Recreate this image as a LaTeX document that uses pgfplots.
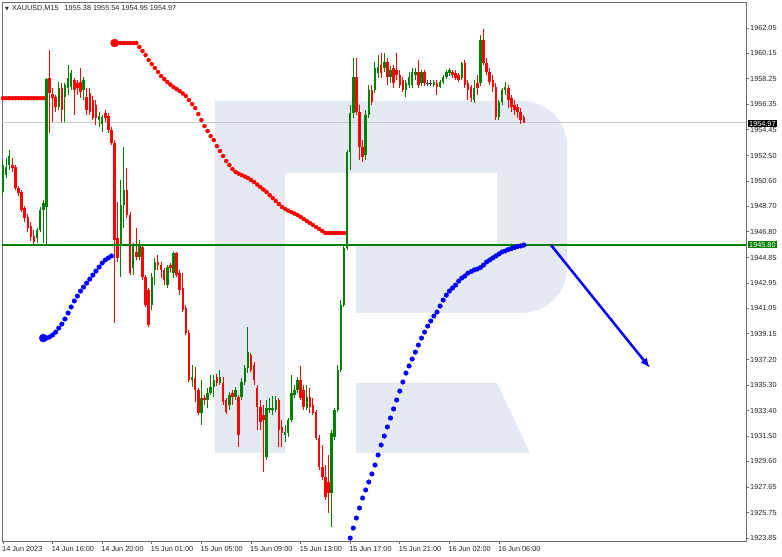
\documentclass[border=0pt]{standalone}
\usepackage{fontspec}
\setmainfont{Liberation Sans}
\newfontfamily\dejavu{DejaVu Sans}
\usepackage{pgfplots}
\pgfplotsset{compat=1.18}
\usepackage{pgfplotstable}
\usetikzlibrary{arrows.meta}

\definecolor{cgreen}{RGB}{0,128,0}
\definecolor{cred}{RGB}{255,0,0}
\definecolor{cblue}{RGB}{0,0,255}
\definecolor{logo}{RGB}{229,234,242}
\definecolor{frame}{RGB}{110,110,110}

\pgfplotstableread{
i o h l c
0 1949.77 1952.17 1949.54 1951.79
1 1951.04 1952.32 1950.82 1951.64
2 1951.79 1952.91 1951.42 1952.47
11 1946.32 1947.07 1945.95 1946.92
12 1946.92 1948.65 1946.77 1948.42
13 1948.42 1949.17 1945.95 1948.95
14 1948.65 1958.31 1945.87 1958.23
18 1956.14 1958.01 1955.91 1957.56
20 1956.88 1957.93 1955.01 1957.78
21 1957.56 1959.28 1957.03 1958.31
22 1957.63 1958.91 1957.41 1958.68
26 1957.41 1958.38 1956.66 1958.16
31 1955.16 1955.76 1954.64 1955.46
32 1954.86 1955.54 1954.26 1955.39
38 1945.80 1950.67 1943.40 1948.80
39 1948.80 1953.14 1947.07 1949.92
42 1944.08 1945.95 1943.55 1945.80
44 1944.90 1946.17 1944.68 1945.80
48 1941.31 1943.70 1940.93 1943.40
49 1943.93 1944.83 1942.80 1944.53
53 1942.80 1944.30 1942.58 1944.15
55 1943.70 1945.28 1943.33 1945.20
61 1935.69 1936.81 1935.16 1935.91
64 1933.22 1935.69 1932.32 1934.34
66 1934.19 1935.09 1933.59 1934.71
67 1934.71 1936.06 1934.56 1935.16
68 1935.16 1936.06 1934.41 1935.69
70 1935.46 1936.44 1935.31 1935.91
73 1933.82 1934.79 1933.44 1934.56
75 1934.41 1935.16 1934.19 1934.94
77 1934.41 1935.84 1934.19 1935.54
78 1935.54 1936.81 1935.31 1936.59
79 1936.59 1939.66 1936.21 1937.79
85 1929.92 1934.19 1929.70 1933.59
86 1933.44 1934.34 1933.22 1933.59
87 1933.44 1934.49 1933.07 1933.59
88 1933.44 1934.49 1933.29 1934.19
91 1931.57 1932.32 1931.04 1931.79
92 1931.72 1932.84 1931.42 1932.69
93 1932.69 1936.06 1932.54 1934.71
94 1934.56 1935.31 1934.34 1934.94
95 1934.94 1935.91 1934.71 1935.69
98 1933.59 1935.31 1933.44 1934.41
106 1927.22 1931.94 1924.68 1931.72
107 1931.42 1933.59 1931.19 1933.44
108 1933.44 1936.81 1933.29 1936.44
109 1936.44 1941.68 1936.29 1941.31
110 1941.31 1945.80 1941.16 1945.57
111 1945.57 1952.91 1945.42 1952.77
112 1952.77 1956.29 1951.42 1955.69
113 1955.69 1959.81 1955.31 1958.38
117 1952.54 1955.91 1952.17 1955.54
118 1955.54 1957.78 1955.31 1957.41
120 1957.41 1959.51 1957.18 1959.06
121 1958.68 1960.03 1958.31 1959.13
123 1959.06 1960.18 1958.76 1959.51
125 1958.38 1959.21 1957.93 1958.91
130 1957.41 1958.16 1956.88 1957.93
131 1957.78 1958.76 1957.56 1958.38
132 1957.78 1959.06 1957.56 1958.76
133 1958.53 1959.06 1958.16 1958.76
135 1957.93 1958.91 1957.71 1958.76
139 1957.78 1958.16 1957.63 1958.01
141 1957.63 1958.16 1957.56 1958.01
142 1958.01 1958.53 1957.86 1958.38
143 1958.38 1958.91 1958.23 1958.76
144 1958.68 1959.06 1958.46 1958.91
148 1958.31 1959.51 1958.16 1959.43
152 1956.66 1958.16 1956.44 1957.56
154 1957.93 1961.53 1957.71 1961.15
160 1955.39 1956.66 1955.16 1956.51
161 1956.51 1957.56 1956.29 1957.41
162 1957.41 1958.01 1957.03 1957.63
}\greentab

\pgfplotstableread{
i o h l c
3 1951.79 1952.32 1951.27 1951.57
4 1951.64 1951.79 1949.92 1950.07
5 1950.07 1950.22 1949.47 1949.69
6 1949.77 1949.92 1948.27 1948.42
7 1948.57 1948.72 1947.52 1947.82
8 1947.90 1948.12 1946.77 1947.07
9 1947.22 1947.52 1946.10 1946.40
10 1946.47 1946.92 1945.87 1946.02
15 1958.31 1960.40 1954.19 1957.18
16 1957.11 1957.56 1955.01 1956.81
17 1956.88 1957.03 1955.76 1956.14
19 1957.56 1957.93 1955.01 1955.91
23 1958.16 1958.31 1955.54 1957.41
24 1957.93 1958.16 1957.03 1957.56
25 1958.01 1959.06 1956.81 1957.26
27 1956.88 1957.56 1955.54 1955.91
28 1957.18 1957.56 1955.54 1955.76
29 1956.66 1956.96 1955.16 1955.31
30 1956.29 1956.66 1954.79 1955.31
33 1955.69 1955.91 1955.01 1955.31
34 1955.46 1955.69 1954.19 1954.41
35 1954.41 1954.64 1953.29 1953.44
36 1953.44 1953.66 1939.96 1946.17
37 1946.32 1949.02 1944.53 1944.83
40 1949.92 1951.57 1947.82 1948.05
41 1948.05 1948.27 1943.55 1943.70
43 1945.28 1947.07 1944.68 1944.90
45 1945.65 1945.80 1943.18 1943.40
46 1943.40 1943.55 1941.16 1941.31
47 1942.43 1942.58 1939.66 1939.81
50 1944.53 1945.05 1943.93 1944.30
51 1944.30 1944.53 1943.33 1943.93
52 1943.93 1944.08 1942.80 1943.18
54 1944.30 1944.45 1943.78 1944.08
56 1945.20 1945.28 1943.40 1943.55
57 1943.70 1943.93 1942.05 1942.43
58 1942.58 1943.70 1940.78 1940.93
59 1941.08 1941.31 1939.06 1939.21
60 1939.21 1939.43 1935.54 1935.69
62 1935.84 1936.66 1934.04 1934.94
63 1934.94 1935.09 1933.07 1933.22
65 1934.34 1934.56 1933.82 1934.19
69 1935.91 1936.14 1935.24 1935.46
71 1935.46 1935.91 1933.82 1934.04
72 1934.19 1934.34 1933.14 1933.29
74 1934.71 1934.94 1933.82 1934.41
76 1934.41 1934.56 1930.67 1931.57
80 1937.56 1937.71 1936.29 1936.44
81 1936.81 1937.04 1935.31 1935.69
82 1935.09 1935.31 1931.94 1933.67
83 1933.67 1934.19 1931.94 1932.54
84 1933.07 1933.82 1928.80 1932.69
89 1934.19 1934.34 1930.67 1931.94
90 1932.17 1932.69 1930.67 1931.72
96 1935.69 1936.74 1934.19 1934.34
97 1934.94 1935.31 1933.44 1933.67
99 1934.41 1935.09 1933.22 1933.67
100 1933.82 1934.34 1933.07 1933.22
101 1933.29 1933.44 1931.19 1931.34
102 1931.34 1931.57 1928.95 1929.17
103 1929.17 1930.82 1928.20 1928.42
104 1928.42 1929.32 1926.70 1926.92
105 1928.05 1930.07 1925.73 1927.22
114 1958.38 1959.81 1955.54 1955.76
115 1955.76 1956.29 1952.17 1953.14
116 1953.14 1953.66 1952.02 1952.39
119 1957.41 1957.78 1956.29 1956.51
122 1959.28 1960.18 1958.31 1958.68
124 1959.51 1959.81 1957.78 1958.38
126 1959.06 1959.28 1957.56 1957.93
127 1958.91 1960.18 1958.16 1958.53
128 1958.53 1958.91 1957.56 1957.78
129 1958.16 1958.38 1957.26 1957.41
134 1958.76 1959.66 1957.56 1957.78
136 1958.76 1958.91 1957.71 1957.93
140 1957.93 1958.16 1957.03 1957.63
145 1958.76 1958.91 1958.31 1958.53
146 1958.68 1958.91 1958.16 1958.31
147 1958.53 1958.68 1958.01 1958.16
149 1959.43 1959.66 1957.56 1957.78
150 1957.93 1958.16 1956.66 1957.41
151 1957.63 1957.78 1956.51 1956.81
153 1957.93 1958.53 1957.03 1957.56
155 1961.15 1961.98 1959.28 1959.43
156 1959.43 1959.81 1958.53 1958.76
157 1958.76 1959.06 1957.78 1958.01
158 1958.16 1958.53 1957.26 1957.63
159 1957.63 1957.93 1955.16 1955.39
163 1957.56 1957.78 1956.06 1956.66
164 1956.81 1957.03 1955.76 1956.14
165 1956.29 1956.66 1955.54 1955.91
166 1956.14 1956.36 1955.31 1955.76
167 1955.76 1956.06 1954.86 1955.16
168 1955.38 1955.54 1954.95 1954.97
}\redtab

\pgfplotstableread{
i o h l c
137 1957.96 1958.16 1957.71 1957.90
138 1957.96 1958.16 1957.71 1957.90
}\dojitab

\pgfplotstableread{
i v
0 1956.80
1 1956.80
2 1956.80
3 1956.80
4 1956.80
5 1956.80
6 1956.80
7 1956.80
8 1956.80
9 1956.80
10 1956.80
11 1956.80
12 1956.80
13 1956.80
37 1960.93
38 1960.93
39 1960.93
40 1960.93
41 1960.93
42 1960.93
43 1960.93
44 1960.63
45 1960.33
46 1960.03
47 1959.66
48 1959.36
49 1959.06
50 1958.76
51 1958.46
52 1958.23
53 1958.01
54 1957.82
55 1957.63
56 1957.48
57 1957.33
58 1957.15
59 1956.96
60 1956.66
61 1956.36
62 1956.06
63 1955.61
64 1955.16
65 1954.71
66 1954.34
67 1953.96
68 1953.66
69 1953.21
70 1952.84
71 1952.47
72 1952.09
73 1951.79
74 1951.49
75 1951.27
76 1951.15
77 1951.04
78 1950.93
79 1950.82
80 1950.67
81 1950.52
82 1950.33
83 1950.14
84 1949.96
85 1949.77
86 1949.54
87 1949.32
88 1949.10
89 1948.87
90 1948.65
91 1948.50
92 1948.38
93 1948.27
94 1948.16
95 1948.05
96 1947.90
97 1947.75
98 1947.60
99 1947.45
100 1947.30
101 1947.15
102 1947.00
103 1946.85
104 1946.70
105 1946.70
106 1946.70
107 1946.70
108 1946.70
109 1946.70
110 1946.70
}\reddots

\pgfplotstableread{
i v
14 1938.83
15 1938.91
16 1939.06
17 1939.28
18 1939.58
19 1939.88
20 1940.26
21 1940.71
22 1941.16
23 1941.61
24 1941.98
25 1942.35
26 1942.65
27 1942.95
28 1943.25
29 1943.55
30 1943.85
31 1944.15
32 1944.45
33 1944.68
34 1944.83
35 1944.98
112 1923.85
113 1924.60
114 1925.35
115 1926.10
116 1926.85
117 1927.45
118 1928.05
119 1928.65
120 1929.32
121 1930.07
122 1930.82
123 1931.49
124 1932.17
125 1932.84
126 1933.52
127 1934.19
128 1934.86
129 1935.54
130 1936.21
131 1936.74
132 1937.26
133 1937.78
134 1938.31
135 1938.83
136 1939.28
137 1939.73
138 1940.11
139 1940.48
140 1940.78
141 1941.23
142 1941.68
143 1942.05
144 1942.35
145 1942.58
146 1942.80
147 1943.10
148 1943.33
149 1943.48
150 1943.70
151 1943.81
152 1943.93
153 1944.00
154 1944.11
155 1944.30
156 1944.53
157 1944.68
158 1944.83
159 1944.98
160 1945.13
161 1945.28
162 1945.35
163 1945.46
164 1945.54
165 1945.61
166 1945.69
167 1945.73
168 1945.80
}\bluedots

\pgfplotsset{
  candle/.style 2 args={draw=none, mark=none,
    error bars/.cd, y dir=plus, y explicit, error mark=none,
    error bar style={draw=#1, line width=#2, solid}},
}

\begin{document}
\begin{tikzpicture}
\useasboundingbox (-2pt,-16pt) rectangle (780pt,541pt);
\fill[white] (-2pt,-16pt) rectangle (780pt,541pt);
% watermark logo
\fill[logo] (213pt,88pt) rectangle (283pt,440pt);
\fill[logo] (283pt,440pt) -- (520pt,440pt) arc[start angle=90,end angle=0,radius=45pt] -- (565pt,273pt) arc[start angle=0,end angle=-90,radius=45pt] -- (354pt,228pt) -- (354pt,296pt) -- (495pt,296pt) -- (495pt,368pt) -- (283pt,368pt) -- cycle;
\fill[logo] (354pt,158pt) -- (495pt,158pt) -- (528pt,88pt) -- (354pt,88pt) -- cycle;

\begin{axis}[
  at={(0pt,0pt)}, anchor=south west,
  width=744pt, height=538pt, scale only axis,
  xmin=-0.32, xmax=239.68, ymin=1923.63, ymax=1963.93,
  axis line style={draw=frame, line width=1pt},
  tick align=outside, xtick pos=bottom, ytick pos=right, yticklabel pos=right,
  major tick length=3pt,
  tick style={draw=frame, line width=0.7pt},
  xtick={0,16,32,48,64,80,96,112,128,144,160},
  xticklabels={14 Jun 2023,14 Jun 16:00,14 Jun 20:00,15 Jun 01:00,15 Jun 05:00,15 Jun 09:00,15 Jun 13:00,15 Jun 17:00,15 Jun 21:00,16 Jun 02:00,16 Jun 06:00},
  ytick={1962.05,1960.15,1958.25,1956.35,1954.45,1952.50,1950.60,1948.70,1946.80,1944.85,1942.95,1941.05,1939.15,1937.20,1935.30,1933.40,1931.50,1929.60,1927.65,1925.75,1923.85},
  yticklabels={1962.05,1960.15,1958.25,1956.35,1954.45,1952.50,1950.60,1948.70,1946.80,1944.85,1942.95,1941.05,1939.15,1937.20,1935.30,1933.40,1931.50,1929.60,1927.65,1925.75,1923.85},
  ticklabel style={font=\fontsize{7.3}{8.5}\selectfont, text=black!85},
  xticklabel style={anchor=north west, inner sep=0pt, xshift=-1pt, yshift=-2pt},
  yticklabel style={anchor=west, inner sep=0pt, xshift=1pt},
]
\addplot[black!22, line width=0.6pt] coordinates {(-1,1954.97) (241,1954.97)};

% green candles: wick low->high, body open->close
\addplot[candle={cgreen}{1pt}] table[x=i, y=l, y error expr=\thisrow{h}-\thisrow{l}] {\greentab};
\addplot[candle={cgreen}{2.5pt}] table[x=i, y=o, y error expr=\thisrow{c}-\thisrow{o}] {\greentab};
% red candles: wick low->high, body close->open
\addplot[candle={cred}{1pt}] table[x=i, y=l, y error expr=\thisrow{h}-\thisrow{l}] {\redtab};
\addplot[candle={cred}{2.5pt}] table[x=i, y=c, y error expr=\thisrow{o}-\thisrow{c}] {\redtab};
% doji
\addplot[candle={black!75}{1pt}] table[x=i, y=l, y error expr=\thisrow{h}-\thisrow{l}] {\dojitab};
\addplot[candle={black!75}{3pt}] table[x=i, y=c, y error expr=\thisrow{o}-\thisrow{c}] {\dojitab};

% indicator dots
\addplot[cred, only marks, mark=*, mark size=2pt, mark options={draw=none, fill=cred}] table[x=i, y=v] {\reddots};
\addplot[cred, only marks, mark=*, mark size=4pt, mark options={draw=none, fill=cred}] coordinates {(36,1960.93)};
\addplot[cblue, only marks, mark=*, mark size=2.3pt, mark options={draw=none, fill=cblue}] table[x=i, y=v] {\bluedots};
\addplot[cblue, only marks, mark=*, mark size=4pt, mark options={draw=none, fill=cblue}] coordinates {(13,1938.83)};

% support line
\addplot[cgreen, line width=1.5pt] coordinates {(-1,1945.80) (241,1945.80)};
% forecast arrow
\addplot[cblue, line width=2.5pt, -{Latex[length=10pt,width=8pt]}] coordinates {(176.77,1945.80) (208.71,1936.59)};
\end{axis}

\node[anchor=west, inner sep=0pt, font=\fontsize{7.3}{8.5}\selectfont, text=black!85] at (3pt,533pt)
  {{\dejavu\fontsize{5}{6}\selectfont ▼}\hspace{3pt}XAUUSD,M15\hspace{6pt}1955.38 1955.54 1954.95 1954.97};
\node[anchor=west, fill=black, text=white, inner xsep=1.5pt, inner ysep=1pt, font=\fontsize{7.3}{8.5}\selectfont] at (745.5pt,417.5pt) {1954.97};
\node[anchor=west, fill=cgreen, text=white, inner xsep=1.5pt, inner ysep=1pt, font=\fontsize{7.3}{8.5}\selectfont] at (745.5pt,296.5pt) {1945.80};
\end{tikzpicture}
\end{document}
